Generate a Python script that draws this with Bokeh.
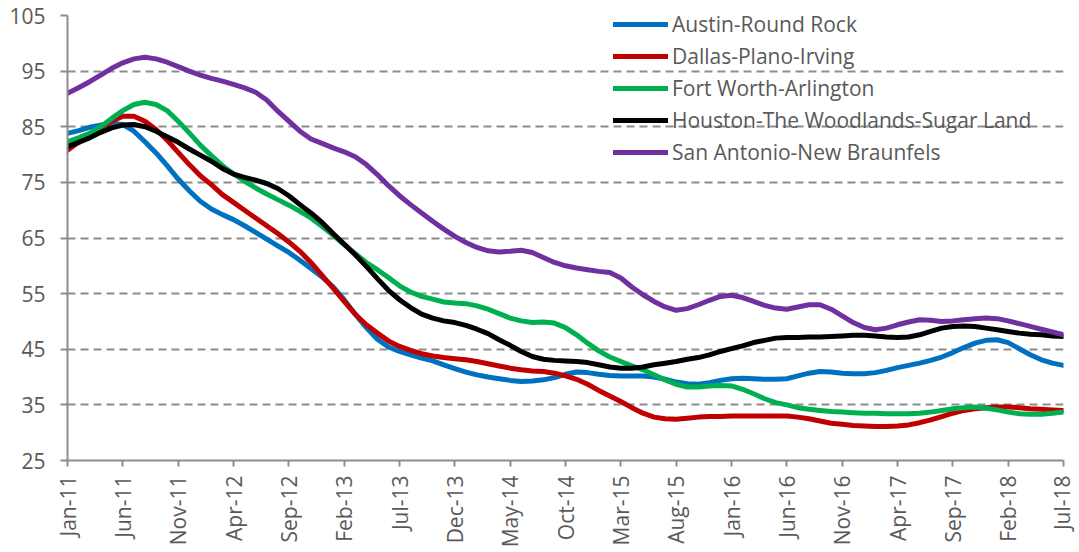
import math
from bokeh.plotting import figure
from bokeh.models import Range1d, FixedTicker, Legend, LegendItem
from bokeh.embed import file_html
from bokeh.resources import INLINE

# ---- data (monthly, Jan-11 .. Jul-18) ----
months = list(range(91))
tick_pos = list(range(0, 91, 5))
tick_labels = ["Jan-11", "Jun-11", "Nov-11", "Apr-12", "Sep-12", "Feb-13", "Jul-13",
               "Dec-13", "May-14", "Oct-14", "Mar-15", "Aug-15", "Jan-16", "Jun-16",
               "Nov-16", "Apr-17", "Sep-17", "Feb-18", "Jul-18"]
y_ticks = [25, 35, 45, 55, 65, 75, 85, 95, 105]

series_names = ["Austin-Round Rock", "Dallas-Plano-Irving", "Fort Worth-Arlington",
                "Houston-The Woodlands-Sugar Land", "San Antonio-New Braunfels"]
series_colors = ["#0070C0", "#C00000", "#00B050", "#000000", "#7030A0"]

austin = [83.8, 84.3, 84.9, 85.3, 85.6, 85.4, 84.2, 82.3, 80.3, 78.0,
          75.6, 73.5, 71.6, 70.2, 69.2, 68.3, 67.2, 66.0, 64.8, 63.6,
          62.4, 61.0, 59.5, 58.0, 56.2, 53.9, 51.3, 48.9, 46.8, 45.4,
          44.6, 44.0, 43.4, 42.9, 42.2, 41.5, 40.9, 40.4, 40.0, 39.7,
          39.4, 39.2, 39.3, 39.5, 39.9, 40.5, 40.9, 40.8, 40.5, 40.3,
          40.2, 40.2, 40.2, 40.0, 39.6, 39.1, 38.8, 38.7, 39.0, 39.4,
          39.7, 39.8, 39.7, 39.6, 39.6, 39.7, 40.2, 40.7, 41.0, 40.9,
          40.7, 40.6, 40.6, 40.8, 41.2, 41.7, 42.1, 42.5, 43.0, 43.6,
          44.4, 45.3, 46.1, 46.6, 46.7, 46.2, 45.1, 44.0, 43.1, 42.5,
          42.1]
dallas = [80.8, 82.2, 83.5, 84.8, 86.0, 86.9, 86.9, 86.0, 84.5, 82.6,
          80.4, 78.2, 76.2, 74.6, 72.8, 71.4, 70.0, 68.6, 67.2, 65.8,
          64.3, 62.6, 60.6, 58.3, 56.0, 53.6, 51.3, 49.4, 47.9, 46.5,
          45.5, 44.8, 44.2, 43.8, 43.5, 43.3, 43.1, 42.8, 42.4, 42.0,
          41.6, 41.3, 41.1, 41.0, 40.7, 40.2, 39.6, 38.7, 37.6, 36.6,
          35.6, 34.5, 33.5, 32.8, 32.5, 32.4, 32.6, 32.8, 32.9, 32.9,
          33.0, 33.0, 33.0, 33.0, 33.0, 33.0, 32.8, 32.5, 32.1, 31.7,
          31.5, 31.3, 31.2, 31.1, 31.1, 31.2, 31.4, 31.8, 32.3, 32.9,
          33.5, 34.0, 34.3, 34.5, 34.6, 34.6, 34.5, 34.3, 34.2, 34.1,
          34.0]
fort_worth = [82.3, 83.0, 83.8, 85.0, 86.5, 87.9, 89.0, 89.4, 89.0, 87.9,
              86.0, 83.9, 81.7, 79.8, 78.0, 76.5, 75.2, 74.0, 72.9, 71.9,
              70.9, 69.8, 68.6, 67.1, 65.5, 63.8, 62.2, 60.6, 59.3, 57.9,
              56.4, 55.3, 54.5, 54.0, 53.5, 53.3, 53.2, 52.8, 52.2, 51.4,
              50.6, 50.1, 49.8, 49.9, 49.7, 48.9, 47.6, 46.1, 44.7, 43.6,
              42.8, 42.0, 41.3, 40.4, 39.5, 38.7, 38.2, 38.2, 38.4, 38.5,
              38.4, 37.8, 37.0, 36.1, 35.4, 35.0, 34.5, 34.2, 34.0, 33.8,
              33.7, 33.6, 33.5, 33.5, 33.4, 33.4, 33.4, 33.5, 33.7, 34.0,
              34.3, 34.5, 34.6, 34.4, 34.1, 33.7, 33.4, 33.3, 33.3, 33.5,
              33.7]
houston = [81.4, 82.2, 83.0, 84.0, 84.8, 85.3, 85.4, 85.0, 84.2, 83.2,
           82.2, 81.0, 79.9, 78.8, 77.5, 76.5, 75.9, 75.4, 74.8, 73.9,
           72.6, 71.0, 69.5, 67.8, 65.8, 63.9, 62.0, 59.9, 57.7, 55.6,
           53.9, 52.5, 51.3, 50.6, 50.1, 49.8, 49.3, 48.6, 47.8, 46.7,
           45.7, 44.6, 43.7, 43.2, 43.0, 42.9, 42.8, 42.6, 42.2, 41.8,
           41.6, 41.6, 41.8, 42.2, 42.5, 42.8, 43.2, 43.5, 44.0, 44.6,
           45.1, 45.6, 46.2, 46.6, 47.0, 47.1, 47.1, 47.2, 47.2, 47.3,
           47.4, 47.5, 47.5, 47.4, 47.2, 47.1, 47.2, 47.6, 48.2, 48.8,
           49.1, 49.2, 49.1, 48.8, 48.5, 48.2, 47.9, 47.7, 47.6, 47.4,
           47.3]
san_antonio = [91.0, 92.0, 93.1, 94.3, 95.5, 96.5, 97.2, 97.5, 97.2, 96.6,
               95.8, 95.0, 94.3, 93.7, 93.2, 92.6, 92.0, 91.2, 89.8, 87.8,
               86.0, 84.2, 82.8, 82.0, 81.2, 80.5, 79.6, 78.2, 76.4, 74.4,
               72.6, 71.0, 69.5, 68.0, 66.6, 65.3, 64.2, 63.3, 62.7, 62.5,
               62.6, 62.8, 62.4, 61.5, 60.6, 60.0, 59.6, 59.3, 59.0, 58.8,
               57.8, 56.2, 54.8, 53.6, 52.6, 52.0, 52.3, 53.0, 53.8, 54.5,
               54.7, 54.3, 53.6, 52.9, 52.4, 52.2, 52.6, 53.0, 53.0, 52.2,
               51.0, 49.8, 48.9, 48.5, 48.8, 49.4, 49.9, 50.3, 50.2, 50.0,
               50.1, 50.3, 50.5, 50.6, 50.5, 50.1, 49.6, 49.1, 48.6, 48.1,
               47.6]

all_series = [austin, dallas, fort_worth, houston, san_antonio]

FONT = "Open Sans"
TXT = "#595959"
AXC = "#8C8C8C"

p = figure(width=1075, height=550, output_backend="svg", toolbar_location=None,
           x_range=Range1d(0, 90), y_range=Range1d(25, 105),
           min_border_left=67, min_border_right=12, min_border_top=15,
           min_border_bottom=88)
p.outline_line_color = None
p.background_fill_color = "white"
p.border_fill_color = "white"

# grid
p.xgrid.grid_line_color = None
p.ygrid.grid_line_color = "#8C8C8C"
p.ygrid.grid_line_width = 2
p.ygrid.grid_line_dash = "8 5"

# axes
p.yaxis.ticker = FixedTicker(ticks=y_ticks)
p.xaxis.ticker = FixedTicker(ticks=tick_pos)
p.xaxis.major_label_overrides = {pos: lab for pos, lab in zip(tick_pos, tick_labels)}
p.xaxis.major_label_orientation = math.pi / 2
for ax in (p.xaxis, p.yaxis):
    ax.axis_line_color = AXC
    ax.axis_line_width = 2
    ax.major_tick_line_color = AXC
    ax.major_tick_line_width = 2
    ax.major_tick_in = 0
    ax.minor_tick_line_color = None
    ax.major_label_text_font = FONT
    ax.major_label_text_font_size = "21px"
    ax.major_label_text_color = TXT
p.yaxis.major_tick_out = 7
p.yaxis.major_label_standoff = 15
p.xaxis.major_tick_out = 6
p.xaxis.major_label_standoff = 9

items = []
for name, col, vals in zip(series_names, series_colors, all_series):
    r = p.line(months, vals, line_color=col, line_width=5,
               line_join="round", line_cap="round")
    items.append(LegendItem(label=name, renderers=[r]))

legend = Legend(items=items, location=(546, 294))
legend.glyph_width = 55
legend.glyph_height = 28
legend.label_height = 28
legend.spacing = 4
legend.padding = 0
legend.margin = 0
legend.label_standoff = 4
legend.border_line_alpha = 0
legend.background_fill_alpha = 0
legend.label_text_font = FONT
legend.label_text_font_size = "21px"
legend.label_text_color = TXT
legend.label_text_baseline = "middle"
p.add_layout(legend)

open("out.html", "w").write(file_html(p, INLINE))
